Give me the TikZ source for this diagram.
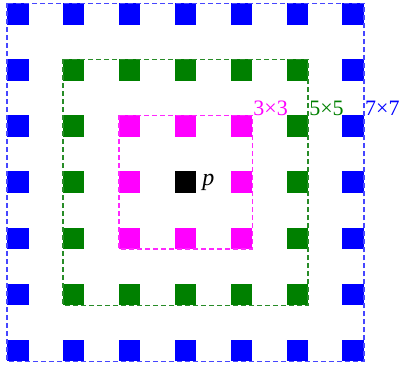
\documentclass[tikz,border=0pt]{standalone}
\usepackage{fontspec}
\setmainfont{Liberation Serif}
\definecolor{mblue}{RGB}{0,0,255}
\definecolor{mgreen}{RGB}{0,128,0}
\definecolor{mmag}{RGB}{255,0,255}
\definecolor{lblue}{RGB}{70,70,255}
\definecolor{lgreen}{RGB}{40,140,40}
\definecolor{lmag}{RGB}{255,40,255}
\begin{document}
\begin{tikzpicture}[x=1pt,y=1pt,
  cell/.style={rectangle,inner sep=0pt,outer sep=0pt,minimum size=21.5pt},
  ringbox/.style={line width=1.3pt,dash pattern=on 5pt off 3pt},
  lab/.style={anchor=base west,inner sep=0pt,font=\fontsize{22}{26}\selectfont}]
\useasboundingbox (0,0) rectangle (402,-367);
\foreach \i in {0,...,6}{
  \foreach \j in {0,...,6}{
    \pgfmathtruncatemacro{\ri}{abs(\i-3)}
    \pgfmathtruncatemacro{\rj}{abs(\j-3)}
    \pgfmathtruncatemacro{\r}{max(\ri,\rj)}
    \ifcase\r \def\cc{black}\or \def\cc{mmag}\or \def\cc{mgreen}\or \def\cc{mblue}\fi
    \node[cell,fill=\cc] (sq-\i-\j) at ({185.5+(\i-3)*55.9},{-182.2+(3-\j)*56.1}) {};
  }
}
\draw[ringbox,draw=lblue] (sq-0-0.north west) rectangle (sq-6-6.south east);
\draw[ringbox,draw=lgreen] (sq-1-1.north west) rectangle (sq-5-5.south east);
\draw[ringbox,draw=lmag] (sq-2-2.north west) rectangle (sq-4-4.south east);
\node[lab,text=mmag,xshift=1pt] (l3) at (sq-4-2.north east) {3×3};
\node[lab,text=mgreen,xshift=1pt] (l5) at (sq-5-2.north east) {5×5};
\node[lab,text=mblue,xshift=1pt] (l7) at (sq-6-2.north east) {7×7};
\node[lab,font=\fontsize{24}{28}\selectfont,xshift=6pt,yshift=-3pt] (p) at (sq-3-3.east) {\itshape p};
\end{tikzpicture}
\end{document}
